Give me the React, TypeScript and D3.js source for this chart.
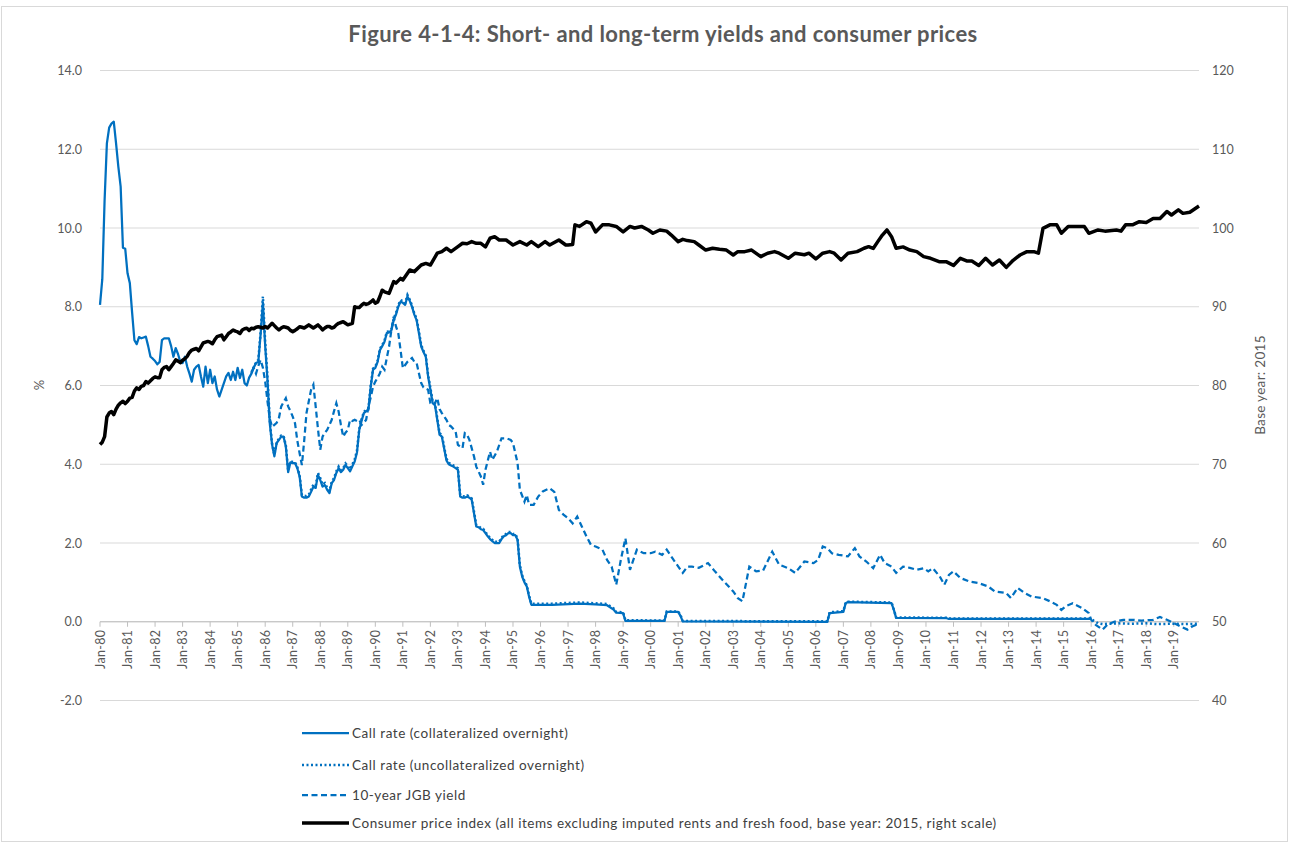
import React from "react";
import * as d3 from "d3";

type Pt = [string, number];

const titleText = "Figure 4-1-4: Short- and long-term yields and consumer prices";

const xTickLabels = [
  "Jan-80","Jan-81","Jan-82","Jan-83","Jan-84","Jan-85","Jan-86","Jan-87","Jan-88","Jan-89",
  "Jan-90","Jan-91","Jan-92","Jan-93","Jan-94","Jan-95","Jan-96","Jan-97","Jan-98","Jan-99",
  "Jan-00","Jan-01","Jan-02","Jan-03","Jan-04","Jan-05","Jan-06","Jan-07","Jan-08","Jan-09",
  "Jan-10","Jan-11","Jan-12","Jan-13","Jan-14","Jan-15","Jan-16","Jan-17","Jan-18","Jan-19",
];
const leftTicks = [-2, 0, 2, 4, 6, 8, 10, 12, 14];
const rightTicks = [40, 50, 60, 70, 80, 90, 100, 110, 120];

const legendLabels = [
  "Call rate (collateralized overnight)",
  "Call rate (uncollateralized overnight)",
  "10-year JGB yield",
  "Consumer price index (all items excluding imputed rents and fresh food, base year: 2015, right scale)",
];

// Call rate (collateralized overnight), %
const callCollateralized: Pt[] = [
  ["1980-01",8.05],["1980-02",8.7],["1980-03",10.7],["1980-04",12.15],["1980-05",12.55],["1980-06",12.65],["1980-07",12.7],["1980-08",12.15],["1980-09",11.55],["1980-10",11.05],["1980-11",9.5],["1980-12",9.47],
  ["1981-01",8.85],["1981-02",8.6],["1981-03",7.85],["1981-04",7.15],["1981-05",7.05],["1981-06",7.23],["1981-07",7.2],["1981-08",7.22],["1981-09",7.24],["1981-10",7.0],["1981-11",6.73],["1981-12",6.68],
  ["1982-01",6.62],["1982-02",6.54],["1982-03",6.6],["1982-04",7.15],["1982-05",7.2],["1982-06",7.2],["1982-07",7.2],["1982-08",7.0],["1982-09",6.73],["1982-10",6.95],["1982-11",6.8],["1982-12",6.6],
  ["1983-01",6.57],["1983-02",6.73],["1983-03",6.48],["1983-04",6.3],["1983-05",6.1],["1983-06",6.4],["1983-07",6.48],["1983-08",6.52],["1983-09",6.23],["1983-10",5.97],["1983-11",6.48],["1983-12",6.06],
  ["1984-01",6.4],["1984-02",6.06],["1984-03",6.23],["1984-04",5.9],["1984-05",5.72],["1984-06",5.89],["1984-07",6.06],["1984-08",6.23],["1984-09",6.32],["1984-10",6.14],["1984-11",6.35],["1984-12",6.14],
  ["1985-01",6.45],["1985-02",6.19],["1985-03",6.4],["1985-04",6.06],["1985-05",6.0],["1985-06",6.2],["1985-07",6.3],["1985-08",6.45],["1985-09",6.57],["1985-10",6.6],["1985-11",7.3],["1985-12",8.1],
  ["1986-01",7.0],["1986-02",6.14],["1986-03",5.04],["1986-04",4.5],["1986-05",4.2],["1986-06",4.54],["1986-07",4.62],["1986-08",4.7],["1986-09",4.7],["1986-10",4.45],["1986-11",3.8],["1986-12",4.05],
  ["1987-01",4.03],["1987-02",4.03],["1987-03",3.9],["1987-04",3.69],["1987-05",3.18],["1987-06",3.15],["1987-07",3.15],["1987-08",3.18],["1987-09",3.3],["1987-10",3.43],["1987-11",3.4],["1987-12",3.73],
  ["1988-01",3.6],["1988-02",3.43],["1988-03",3.47],["1988-04",3.35],["1988-05",3.27],["1988-06",3.52],["1988-07",3.6],["1988-08",3.78],["1988-09",3.9],["1988-10",3.8],["1988-11",3.86],["1988-12",3.98],
  ["1989-01",3.9],["1989-02",3.82],["1989-03",3.95],["1989-04",4.07],["1989-05",4.3],["1989-06",4.87],["1989-07",5.1],["1989-08",5.3],["1989-09",5.35],["1989-10",5.38],["1989-11",5.97],["1989-12",6.4],
  ["1990-01",6.45],["1990-02",6.6],["1990-03",6.9],["1990-04",7.0],["1990-05",7.11],["1990-06",7.33],["1990-07",7.35],["1990-08",7.4],["1990-09",7.66],["1990-10",7.8],["1990-11",8.0],["1990-12",8.13],
  ["1991-01",8.1],["1991-02",8.05],["1991-03",8.26],["1991-04",8.15],["1991-05",8.0],["1991-06",7.8],["1991-07",7.66],["1991-08",7.33],["1991-09",6.99],["1991-10",6.85],["1991-11",6.73],["1991-12",6.23],
  ["1992-01",5.9],["1992-02",5.55],["1992-03",5.5],["1992-04",5.13],["1992-05",4.75],["1992-06",4.7],["1992-07",4.4],["1992-08",4.1],["1992-09",4.0],["1992-10",3.97],["1992-11",3.94],["1992-12",3.9],
  ["1993-01",3.86],["1993-02",3.18],["1993-03",3.15],["1993-04",3.15],["1993-05",3.18],["1993-06",3.15],["1993-07",3.1],["1993-08",2.76],["1993-09",2.42],["1993-10",2.4],["1993-11",2.35],["1993-12",2.33],
  ["1994-01",2.25],["1994-02",2.17],["1994-03",2.1],["1994-04",2.05],["1994-05",2.0],["1994-07",2.0],["1994-08",2.1],["1994-09",2.17],["1994-10",2.2],["1994-11",2.25],["1994-12",2.25],
  ["1995-01",2.2],["1995-02",2.2],["1995-03",2.08],["1995-04",1.4],["1995-05",1.15],["1995-06",1.0],["1995-07",0.9],["1995-08",0.64],["1995-09",0.43],
  ["1996-06",0.43],["1997-06",0.46],["1998-01",0.44],["1998-06",0.42],["1998-09",0.3],["1998-10",0.23],["1999-01",0.22],["1999-02",0.02],
  ["2000-07",0.02],["2000-08",0.25],["2001-01",0.25],["2001-02",0.15],["2001-03",0.01],
  ["2006-06",0.0],["2006-07",0.22],["2007-01",0.25],["2007-02",0.47],["2007-03",0.5],["2008-10",0.47],["2008-11",0.3],["2008-12",0.1],
  ["2010-10",0.09],["2010-11",0.07],["2016-01",0.07],
];

// Call rate (uncollateralized overnight), %
const callUncollateralized: Pt[] = [
  ["1985-07",6.32],["1985-08",6.47],["1985-09",6.58],["1985-10",6.65],["1985-11",7.35],["1985-12",8.26],
  ["1986-01",7.1],["1986-02",6.2],["1986-03",5.1],["1986-04",4.52],["1986-05",4.24],["1986-06",4.56],["1986-07",4.65],["1986-08",4.73],["1986-09",4.72],["1986-10",4.48],["1986-11",3.84],["1986-12",4.08],
  ["1987-01",4.06],["1987-02",4.05],["1987-03",3.93],["1987-04",3.72],["1987-05",3.22],["1987-06",3.2],["1987-07",3.19],["1987-08",3.23],["1987-09",3.36],["1987-10",3.48],["1987-11",3.45],["1987-12",3.78],
  ["1988-01",3.65],["1988-02",3.48],["1988-03",3.52],["1988-04",3.4],["1988-05",3.32],["1988-06",3.56],["1988-07",3.65],["1988-08",3.82],["1988-09",3.94],["1988-10",3.85],["1988-11",3.9],["1988-12",4.02],
  ["1989-01",3.95],["1989-02",3.87],["1989-03",4.0],["1989-04",4.12],["1989-05",4.35],["1989-06",4.9],["1989-07",5.14],["1989-08",5.33],["1989-09",5.38],["1989-10",5.42],["1989-11",6.0],["1989-12",6.43],
  ["1990-01",6.48],["1990-02",6.63],["1990-03",6.93],["1990-04",7.03],["1990-05",7.14],["1990-06",7.36],["1990-07",7.38],["1990-08",7.43],["1990-09",7.7],["1990-10",7.84],["1990-11",8.04],["1990-12",8.17],
  ["1991-01",8.14],["1991-02",8.09],["1991-03",8.3],["1991-04",8.18],["1991-05",8.03],["1991-06",7.83],["1991-07",7.7],["1991-08",7.37],["1991-09",7.03],["1991-10",6.88],["1991-11",6.76],["1991-12",6.27],
  ["1992-01",5.94],["1992-02",5.59],["1992-03",5.54],["1992-04",5.17],["1992-05",4.79],["1992-06",4.74],["1992-07",4.44],["1992-08",4.14],["1992-09",4.04],["1992-10",4.0],["1992-11",3.97],["1992-12",3.93],
  ["1993-01",3.9],["1993-02",3.22],["1993-03",3.19],["1993-04",3.18],["1993-05",3.21],["1993-06",3.18],["1993-07",3.13],["1993-08",2.8],["1993-09",2.46],["1993-10",2.43],["1993-11",2.38],["1993-12",2.36],
  ["1994-01",2.28],["1994-02",2.2],["1994-03",2.13],["1994-04",2.08],["1994-05",2.03],["1994-07",2.03],["1994-08",2.13],["1994-09",2.2],["1994-10",2.23],["1994-11",2.28],["1994-12",2.28],
  ["1995-01",2.23],["1995-02",2.23],["1995-03",2.11],["1995-04",1.43],["1995-05",1.18],["1995-06",1.03],["1995-07",0.93],["1995-08",0.67],["1995-09",0.46],
  ["1996-06",0.46],["1997-06",0.49],["1998-01",0.47],["1998-06",0.45],["1998-09",0.33],["1998-10",0.25],["1999-01",0.24],["1999-02",0.04],
  ["2000-07",0.03],["2000-08",0.26],["2001-01",0.26],["2001-02",0.17],["2001-03",0.02],
  ["2006-06",0.01],["2006-07",0.24],["2007-01",0.27],["2007-02",0.49],["2007-03",0.51],["2008-10",0.49],["2008-11",0.31],["2008-12",0.11],
  ["2010-10",0.1],["2010-11",0.08],["2016-01",0.08],["2016-02",0.03],["2016-03",0.0],["2016-04",-0.04],["2016-06",-0.06],
  ["2016-09",-0.05],["2017-01",-0.04],["2017-06",-0.05],["2018-01",-0.04],["2018-06",-0.06],["2019-01",-0.05],["2019-06",-0.06],["2019-12",-0.05],
];

// 10-year JGB yield, %
const jgb10y: Pt[] = [
  ["1985-07",6.35],["1985-08",6.45],["1985-09",6.3],["1985-10",6.5],["1985-11",6.65],["1985-12",6.45],
  ["1986-01",6.1],["1986-02",5.6],["1986-03",5.15],["1986-04",4.95],["1986-05",5.0],["1986-06",5.05],["1986-07",5.18],["1986-08",5.47],["1986-10",5.68],["1986-11",5.47],["1986-12",5.35],
  ["1987-01",5.21],["1987-02",5.04],["1987-03",4.6],["1987-04",4.28],["1987-05",3.98],["1987-06",4.6],["1987-07",5.3],["1987-08",5.6],["1987-09",5.89],["1987-10",6.02],["1987-11",5.47],["1987-12",4.9],
  ["1988-01",4.37],["1988-02",4.7],["1988-03",4.8],["1988-04",4.87],["1988-05",5.0],["1988-06",5.13],["1988-07",5.35],["1988-08",5.55],["1988-09",5.34],["1988-10",5.0],["1988-11",4.7],["1988-12",4.8],
  ["1989-01",4.87],["1989-02",5.13],["1989-03",5.1],["1989-04",5.13],["1989-05",5.1],["1989-06",5.13],["1989-07",5.0],["1989-08",5.05],["1989-09",5.13],["1989-10",5.47],["1989-11",5.7],["1989-12",5.97],
  ["1990-01",6.1],["1990-02",6.2],["1990-03",6.31],["1990-04",6.48],["1990-05",6.4],["1990-06",6.7],["1990-07",6.99],["1990-08",7.41],["1990-09",7.75],["1990-10",7.5],["1990-11",7.33],["1990-12",6.9],
  ["1991-01",6.44],["1991-02",6.52],["1991-03",6.6],["1991-04",6.65],["1991-05",6.7],["1991-06",6.6],["1991-07",6.57],["1991-08",6.31],["1991-09",6.06],["1991-10",5.95],["1991-12",5.89],
  ["1992-01",5.55],["1992-02",5.5],["1992-03",5.55],["1992-04",5.68],["1992-05",5.4],["1992-06",5.3],["1992-08",5.13],["1992-09",5.0],["1992-10",4.96],["1992-12",4.83],
  ["1993-01",4.49],["1993-02",4.45],["1993-03",4.41],["1993-04",4.79],["1993-05",4.75],["1993-06",4.62],["1993-07",4.41],["1993-08",4.2],["1993-09",3.94],["1993-11",3.69],["1993-12",3.48],
  ["1994-01",3.86],["1994-03",4.32],["1994-04",4.11],["1994-06",4.32],["1994-08",4.66],["1994-10",4.66],["1994-12",4.62],
  ["1995-01",4.54],["1995-03",4.03],["1995-04",3.35],["1995-06",3.05],["1995-07",3.22],["1995-08",2.97],["1995-10",2.97],["1995-12",3.18],
  ["1996-02",3.31],["1996-05",3.39],["1996-07",3.3],["1996-09",2.84],["1996-11",2.72],
  ["1997-01",2.63],["1997-03",2.5],["1997-05",2.67],["1997-07",2.42],["1997-09",2.17],["1997-11",1.95],
  ["1998-01",1.91],["1998-04",1.83],["1998-06",1.57],["1998-08",1.4],["1998-10",0.94],["1998-12",1.57],
  ["1999-02",2.12],["1999-04",1.32],["1999-07",1.83],["1999-10",1.74],
  ["2000-01",1.74],["2000-03",1.78],["2000-06",1.7],["2000-08",1.83],["2000-11",1.57],
  ["2001-03",1.24],["2001-05",1.4],["2001-07",1.4],["2001-10",1.37],
  ["2002-02",1.49],["2002-05",1.28],["2002-09",1.02],
  ["2003-01",0.77],["2003-03",0.6],["2003-05",0.52],["2003-08",1.4],["2003-11",1.28],
  ["2004-02",1.3],["2004-06",1.78],["2004-09",1.45],
  ["2005-01",1.36],["2005-04",1.24],["2005-08",1.53],["2005-12",1.49],
  ["2006-02",1.57],["2006-04",1.91],["2006-06",1.87],["2006-08",1.74],["2006-11",1.7],
  ["2007-03",1.66],["2007-06",1.87],["2007-08",1.66],["2007-11",1.53],
  ["2008-02",1.36],["2008-05",1.7],["2008-07",1.49],["2008-10",1.4],["2008-12",1.24],
  ["2009-03",1.4],["2009-06",1.37],["2009-09",1.32],["2009-12",1.36],
  ["2010-02",1.28],["2010-04",1.36],["2010-07",1.15],["2010-09",0.94],["2010-11",1.19],
  ["2011-01",1.28],["2011-04",1.11],["2011-08",1.02],["2011-12",0.98],
  ["2012-04",0.9],["2012-07",0.77],["2012-12",0.73],
  ["2013-02",0.6],["2013-05",0.86],["2013-08",0.73],["2013-11",0.64],
  ["2014-04",0.6],["2014-07",0.52],["2014-10",0.43],["2014-12",0.3],
  ["2015-02",0.4],["2015-05",0.47],["2015-09",0.35],["2015-12",0.22],
  ["2016-01",0.05],["2016-03",-0.08],["2016-06",-0.2],["2016-08",-0.08],["2016-11",0.0],
  ["2017-03",0.05],["2017-07",0.05],["2017-11",0.03],
  ["2018-04",0.05],["2018-07",0.12],["2018-10",0.05],
  ["2019-01",-0.03],["2019-04",-0.12],["2019-07",-0.2],["2019-09",-0.12],["2019-12",-0.05],
];

// Consumer price index (2015 = 100), right scale
const cpi: Pt[] = [
  ["1980-01",72.5],["1980-02",72.8],["1980-03",73.5],["1980-04",76.0],["1980-05",76.5],["1980-06",76.7],["1980-07",76.3],["1980-08",77.0],["1980-09",77.5],["1980-10",77.8],["1980-11",78.0],["1980-12",77.7],
  ["1981-01",78.0],["1981-02",78.4],["1981-03",78.5],["1981-04",79.3],["1981-05",79.7],["1981-06",79.5],["1981-07",79.9],["1981-08",80.0],["1981-09",80.5],["1981-10",80.3],["1981-11",80.6],["1981-12",80.9],
  ["1982-01",81.1],["1982-02",81.0],["1982-03",81.0],["1982-04",82.0],["1982-05",82.3],["1982-06",82.4],["1982-07",82.0],["1982-08",82.4],["1982-09",82.8],["1982-10",83.25],["1982-11",83.1],["1982-12",82.9],
  ["1983-01",83.2],["1983-02",83.4],["1983-03",83.7],["1983-04",84.2],["1983-05",84.5],["1983-06",84.6],["1983-07",84.7],["1983-08",84.4],["1983-09",84.9],["1983-10",85.4],["1983-11",85.5],["1983-12",85.6],
  ["1984-01",85.5],["1984-02",85.3],["1984-03",85.8],["1984-04",86.2],["1984-05",86.3],["1984-06",86.4],["1984-07",85.8],["1984-08",86.2],["1984-09",86.6],["1984-10",86.8],["1984-11",87.05],["1984-12",86.9],
  ["1985-01",86.8],["1985-02",86.6],["1985-03",87.05],["1985-04",87.2],["1985-05",87.27],["1985-06",87.0],["1985-07",87.27],["1985-08",87.2],["1985-09",87.4],["1985-10",87.47],["1985-11",87.4],["1985-12",87.3],
  ["1986-01",87.5],["1986-02",87.3],["1986-03",87.6],["1986-04",87.9],["1986-05",87.6],["1986-06",87.3],["1986-07",87.05],["1986-08",87.3],["1986-09",87.47],["1986-10",87.4],["1986-11",87.3],["1986-12",87.0],
  ["1987-01",86.84],["1987-02",87.0],["1987-03",87.2],["1987-04",87.47],["1987-05",87.4],["1987-06",87.3],["1987-07",87.5],["1987-08",87.7],["1987-09",87.5],["1987-10",87.3],["1987-11",87.5],["1987-12",87.7],
  ["1988-01",87.4],["1988-02",87.05],["1988-03",87.3],["1988-04",87.5],["1988-05",87.5],["1988-06",87.3],["1988-07",87.4],["1988-08",87.7],["1988-09",87.9],["1988-10",88.0],["1988-11",88.1],["1988-12",87.9],
  ["1989-01",87.7],["1989-02",87.8],["1989-03",87.9],["1989-04",90.0],["1989-05",89.9],["1989-06",89.9],["1989-07",90.2],["1989-08",90.44],["1989-09",90.3],["1989-10",90.4],["1989-11",90.6],["1989-12",90.86],
  ["1990-01",90.44],["1990-02",90.6],["1990-03",91.3],["1990-04",92.1],["1990-05",91.9],["1990-07",91.7],["1990-09",93.2],["1990-10",93.0],["1990-12",93.6],
  ["1991-01",93.4],["1991-04",94.67],["1991-06",94.46],["1991-09",95.3],["1991-11",95.5],
  ["1992-01",95.3],["1992-04",96.8],["1992-06",97.0],["1992-08",97.43],["1992-10",97.0],
  ["1993-01",97.63],["1993-03",98.06],["1993-05",98.0],["1993-07",98.27],["1993-09",98.06],["1993-11",98.06],
  ["1994-01",97.6],["1994-03",98.7],["1994-05",98.9],["1994-07",98.48],["1994-10",98.48],
  ["1995-01",97.84],["1995-04",98.27],["1995-07",97.84],["1995-09",98.27],["1995-12",97.63],
  ["1996-03",98.27],["1996-05",97.84],["1996-09",98.48],["1996-12",97.84],
  ["1997-01",97.84],["1997-03",97.9],["1997-04",100.4],["1997-06",100.2],["1997-09",100.8],["1997-11",100.6],
  ["1998-01",99.5],["1998-04",100.4],["1998-07",100.4],["1998-10",100.2],
  ["1999-01",99.5],["1999-04",100.2],["1999-06",100.0],["1999-09",100.2],["1999-12",99.75],
  ["2000-02",99.33],["2000-05",99.75],["2000-08",99.6],["2000-10",99.1],
  ["2001-01",98.27],["2001-03",98.56],["2001-05",98.4],["2001-08",98.27],["2001-10",97.84],
  ["2002-01",97.2],["2002-04",97.43],["2002-07",97.3],["2002-10",97.2],
  ["2003-01",96.57],["2003-03",97.0],["2003-06",97.0],["2003-09",97.2],
  ["2004-01",96.36],["2004-04",96.8],["2004-07",97.0],["2004-09",96.8],
  ["2005-01",96.15],["2005-04",96.8],["2005-08",96.6],["2005-10",96.8],
  ["2006-01",96.07],["2006-04",96.8],["2006-07",97.0],["2006-09",96.8],["2006-12",95.94],
  ["2007-03",96.8],["2007-07",97.0],["2007-10",97.43],["2007-12",97.63],
  ["2008-02",97.4],["2008-04",98.27],["2008-06",99.1],["2008-08",99.75],["2008-10",98.9],["2008-12",97.43],
  ["2009-03",97.6],["2009-06",97.2],["2009-09",97.0],["2009-12",96.36],
  ["2010-03",96.15],["2010-07",95.7],["2010-10",95.7],
  ["2011-01",95.25],["2011-04",96.15],["2011-07",95.8],["2011-09",95.8],["2011-12",95.25],
  ["2012-03",96.15],["2012-06",95.3],["2012-09",95.94],["2012-12",95.0],
  ["2013-03",95.9],["2013-06",96.57],["2013-09",97.0],["2013-12",97.0],
  ["2014-02",96.8],["2014-04",99.96],["2014-07",100.4],["2014-10",100.4],["2014-12",99.33],
  ["2015-03",100.2],["2015-06",100.2],["2015-10",100.2],["2015-12",99.33],
  ["2016-04",99.75],["2016-07",99.6],["2016-12",99.75],
  ["2017-02",99.6],["2017-04",100.4],["2017-07",100.4],["2017-10",100.8],
  ["2018-01",100.7],["2018-04",101.2],["2018-07",101.2],["2018-10",102.1],["2018-12",101.65],
  ["2019-03",102.3],["2019-05",101.86],["2019-08",102.0],["2019-12",102.8],
];

const W = 1290;
const H = 843;
const plotLeft = 100;
const plotRight = 1199;
const yTop = 70.5;
const yBottom = 700.5;
const FONT = "Lato, Carlito, Calibri, 'Liberation Sans', sans-serif";
const TEXT = "#595959";
const BLUE = "#0070C0";

const monthIndex = (s: string) => {
  const [y, m] = s.split("-").map(Number);
  return (y - 1980) * 12 + (m - 1);
};

export default function App() {
  const x = d3.scaleLinear().domain([0, 479]).range([plotLeft, plotRight]);
  const yL = d3.scaleLinear().domain([-2, 14]).range([yBottom, yTop]);
  const yR = d3.scaleLinear().domain([40, 120]).range([yBottom, yTop]);

  const lineL = d3
    .line<Pt>()
    .x((d) => x(monthIndex(d[0])))
    .y((d) => yL(d[1]));
  const lineR = d3
    .line<Pt>()
    .x((d) => x(monthIndex(d[0])))
    .y((d) => yR(d[1]));

  const axisY = yL(0);
  const legendRows = [733, 765, 795, 823];

  return (
    <svg
      width={W}
      height={H}
      style={{ position: "absolute", left: 0, top: 0, background: "#fff" }}
      fontFamily={FONT}
    >
      <rect x={1.5} y={6.5} width={1286} height={835} fill="#fff" stroke="#d9d9d9" strokeWidth={1} />
      <text x={663} y={42} textAnchor="middle" fontSize={22} fontWeight={700} letterSpacing={0.4} fill={TEXT}>
        {titleText}
      </text>

      {/* gridlines */}
      {leftTicks.map((t) => (
        <line key={"g" + t} x1={plotLeft} x2={plotRight} y1={yL(t)} y2={yL(t)} stroke="#d9d9d9" strokeWidth={1} />
      ))}

      {/* left axis labels */}
      {leftTicks.map((t) => (
        <text key={"l" + t} x={82} y={yL(t) + 4.5} textAnchor="end" fontSize={12.5} fill={TEXT}>
          {t.toFixed(1)}
        </text>
      ))}
      {/* right axis labels */}
      {rightTicks.map((t) => (
        <text key={"r" + t} x={1212} y={yR(t) + 4.5} textAnchor="start" fontSize={12.5} fill={TEXT}>
          {t}
        </text>
      ))}

      {/* x axis at zero */}
      <line x1={plotLeft} x2={plotRight} y1={axisY} y2={axisY} stroke="#bfbfbf" strokeWidth={1} />
      {xTickLabels.map((lab, i) => {
        const xx = x(i * 12);
        return (
          <g key={lab}>
            <line x1={xx} x2={xx} y1={axisY} y2={axisY + 5} stroke="#bfbfbf" strokeWidth={1} />
            <text
              transform={`translate(${xx + 4.5},${axisY + 8}) rotate(-90)`}
              textAnchor="end"
              fontSize={12.5}
              letterSpacing={0.3}
              fill={TEXT}
            >
              {lab}
            </text>
          </g>
        );
      })}

      {/* axis titles */}
      <text transform={`translate(44,385) rotate(-90)`} textAnchor="middle" fontSize={13} fill={TEXT}>
        %
      </text>
      <text transform={`translate(1265,385) rotate(-90)`} textAnchor="middle" fontSize={13.5} letterSpacing={0.3} fill={TEXT}>
        Base year: 2015
      </text>

      {/* series */}
      <path d={lineL(callCollateralized) || ""} fill="none" stroke={BLUE} strokeWidth={2.25} strokeLinejoin="round" />
      <path d={lineL(callUncollateralized) || ""} fill="none" stroke={BLUE} strokeWidth={2.5} strokeDasharray="2 2.5" />
      <path d={lineL(jgb10y) || ""} fill="none" stroke={BLUE} strokeWidth={2.25} strokeDasharray="6 3.5" />
      <path d={lineR(cpi) || ""} fill="none" stroke="#000" strokeWidth={3.5} strokeLinejoin="round" />

      {/* legend */}
      {legendLabels.map((lab, i) => {
        const yy = legendRows[i];
        const stroke = i === 3 ? "#000" : BLUE;
        const dash = i === 1 ? "2 2.5" : i === 2 ? "6 3.5" : undefined;
        const sw = i === 3 ? 3.5 : i === 1 ? 2.5 : 2.25;
        return (
          <g key={lab}>
            <line x1={302} x2={349} y1={yy} y2={yy} stroke={stroke} strokeWidth={sw} strokeDasharray={dash} />
            <text x={352} y={yy + 4.5} fontSize={13.5} letterSpacing={0.55} fill="#404040">
              {lab}
            </text>
          </g>
        );
      })}
    </svg>
  );
}
